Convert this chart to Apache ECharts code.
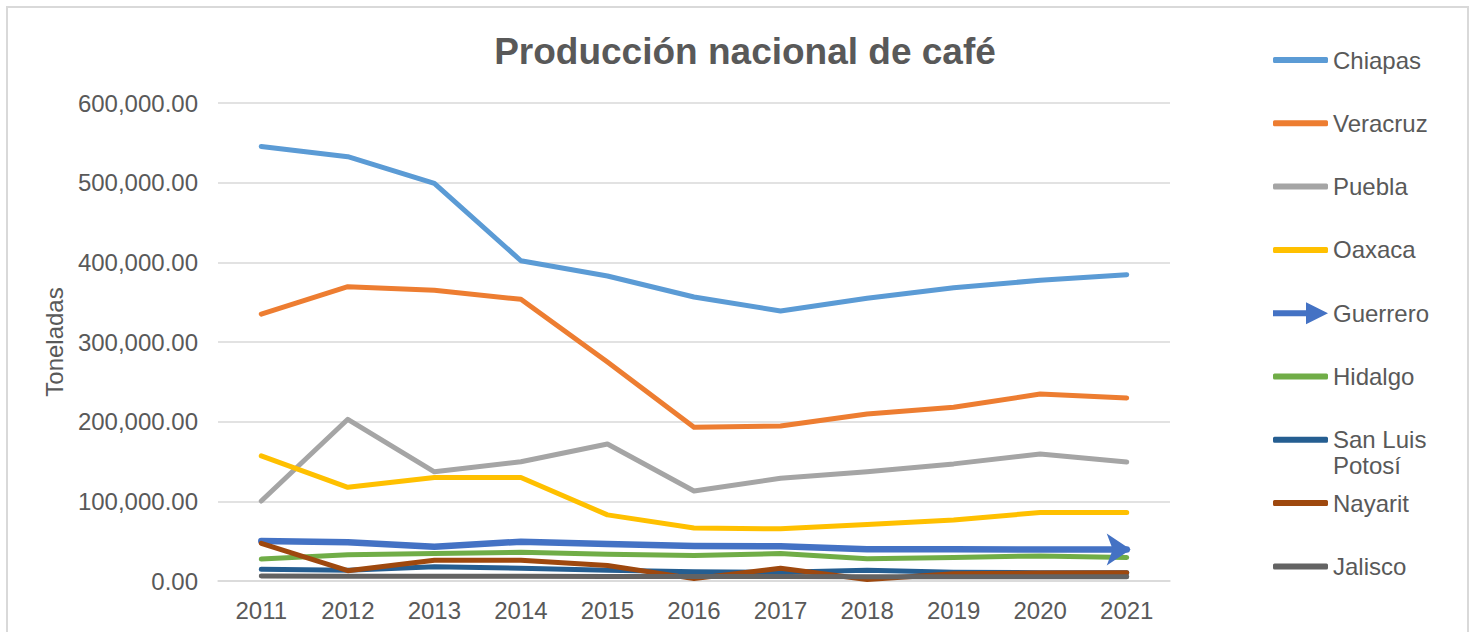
<!DOCTYPE html>
<html>
<head>
<meta charset="utf-8">
<script src="https://cdn.jsdelivr.net/npm/echarts@6/dist/echarts.min.js"></script>
<style>
  html, body { margin: 0; padding: 0; background: #fff; }
  #chart { width: 1475px; height: 632px; }
  #frame { position: absolute; left: 6px; top: 6px; width: 1463px; height: 640px;
           border: 2px solid #d9d9d9; box-sizing: border-box; pointer-events: none; }
</style>
</head>
<body>
<div id="chart"></div>
<div id="frame"></div>
<script>
var years = ['2011', '2012', '2013', '2014', '2015', '2016', '2017', '2018', '2019', '2020', '2021'];
var chiapas  = [545500, 532600, 499000, 402000, 382800, 356500, 339000, 355000, 368000, 377500, 384500];
var veracruz = [335000, 369400, 365000, 353600, 275000, 193000, 194500, 209600, 218000, 234700, 229700];
var puebla   = [100400, 203000, 137000, 149700, 172000, 113000, 129000, 137000, 147000, 159500, 149500];
var oaxaca   = [157000, 117600, 130000, 130000, 83000, 66500, 65500, 71000, 76500, 86000, 86000];
var guerrero = [50200, 48500, 43000, 49300, 46400, 44000, 43500, 40000, 39800, 39500, 39500];
var hidalgo  = [27600, 33000, 34500, 36000, 33500, 32000, 34500, 28000, 29500, 31500, 29500];
var slp      = [14600, 13500, 18000, 16000, 13500, 11500, 11000, 13500, 11000, 10500, 10500];
var nayarit  = [47300, 13000, 26000, 26000, 19500, 3000, 16000, 2000, 9000, 10000, 10500];
var jalisco  = [6300, 6000, 6000, 6000, 5800, 5600, 5500, 5400, 5400, 5400, 5300];

var names  = ['Chiapas', 'Veracruz', 'Puebla', 'Oaxaca', 'Guerrero', 'Hidalgo', 'San Luis Potosí', 'Nayarit', 'Jalisco'];
var values = [chiapas, veracruz, puebla, oaxaca, guerrero, hidalgo, slp, nayarit, jalisco];
var colors = ['#5b9bd5', '#ed7d31', '#a5a5a5', '#ffc000', '#4472c4', '#70ad47', '#255e91', '#9e480e', '#636363'];

var ink = '#595959';
var font = 'Liberation Sans, Arial, sans-serif';
var arrowIcon = 'path://M0,8 L33,8 L33,0 L55,11 L33,22 L33,14 L0,14 Z';

var chart = echarts.init(document.getElementById('chart'), null, { renderer: 'svg' });

var series = names.map(function(n, i) {
  var isArrow = n === 'Guerrero';
  var data = values[i].map(function(v, j) {
    if (isArrow && j === values[i].length - 1) {
      return { value: v, symbol: 'arrow', symbolSize: [24, 24], symbolRotate: -90, symbolOffset: [4, 0] };
    }
    return v;
  });
  return {
    name: n,
    type: 'line',
    data: data,
    symbol: 'none',
    color: colors[i],
    lineStyle: { color: colors[i], width: isArrow ? 6.5 : 5, cap: 'round', join: 'round' },
    itemStyle: { color: colors[i] }
  };
});

// one legend per item, so that the two-line name keeps even spacing
var legends = names.map(function(n, i) {
  var isSlp = n === 'San Luis Potosí';
  var isArrow = n === 'Guerrero';
  var centre = 60 + i * 63.3;
  return {
    data: [n],
    orient: 'vertical',
    left: 1273,
    top: isSlp ? centre - 39 : centre - 13,
    padding: 0,
    itemWidth: 55,
    itemHeight: isArrow ? 22 : 6,
    icon: isArrow ? arrowIcon : 'roundRect',
    formatter: isSlp ? '{e| }\n{a|San Luis}\n{a|Potosí}' : '{name}',
    textStyle: {
      color: ink, fontSize: 24, fontFamily: font, lineHeight: 26,
      rich: {
        e: { fontSize: 24, lineHeight: 26 },
        a: { color: ink, fontSize: 24, fontFamily: font, lineHeight: 26 }
      }
    }
  };
});

chart.setOption({
  animation: false,
  title: {
    text: 'Producción nacional de café',
    left: 740,
    textAlign: 'center',
    top: 28,
    textStyle: { color: ink, fontSize: 37, fontWeight: 'bold', fontFamily: font }
  },
  legend: legends,
  grid: { left: 218, right: 305, top: 103, bottom: 51 },
  xAxis: {
    type: 'category',
    data: years,
    boundaryGap: true,
    axisLine: { lineStyle: { color: '#d9d9d9', width: 1.5 } },
    axisTick: { show: false },
    axisLabel: { color: ink, fontSize: 24, fontFamily: font, margin: 17 }
  },
  yAxis: {
    type: 'value',
    min: 0,
    max: 600000,
    interval: 100000,
    name: 'Toneladas',
    nameLocation: 'middle',
    nameGap: 149,
    nameTextStyle: { color: ink, fontSize: 24, fontFamily: font },
    axisLine: { show: false },
    axisTick: { show: false },
    splitLine: { lineStyle: { color: '#d9d9d9', width: 1.5 } },
    axisLabel: {
      color: ink, fontSize: 24, fontFamily: font, margin: 20,
      formatter: function(v) {
        return v.toLocaleString('en-US', { minimumFractionDigits: 2, maximumFractionDigits: 2 });
      }
    }
  },
  series: series
});
window.addEventListener('resize', function() { chart.resize(); });
</script>
</body>
</html>
